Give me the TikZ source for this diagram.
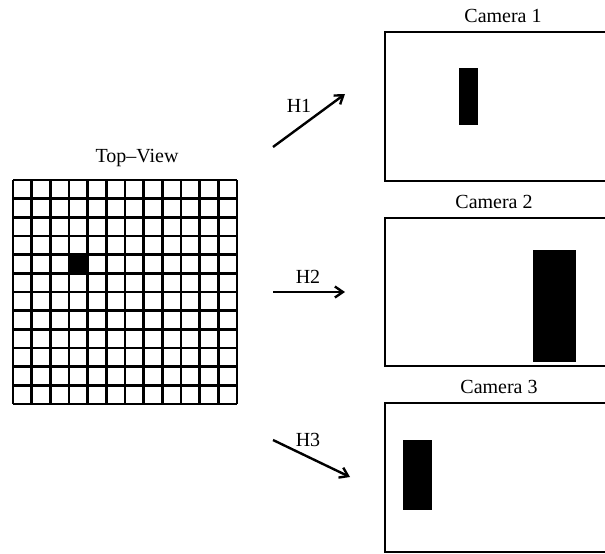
\documentclass[tikz,border=0pt]{standalone}
\usepackage{fontspec}
\setmainfont{Liberation Serif}
\usetikzlibrary{arrows.meta}
\tikzstyle{Frame}=[draw=black,line width=2.6pt]
\tikzstyle{Cell}=[draw=black,line width=2.6pt]
\tikzstyle{Blob}=[fill=black]
\tikzstyle{Edge}=[draw=black,line width=2.4pt,-{Straight Barb[length=8pt,width=11pt]}]
\tikzstyle{NodeST}=[font=\fontsize{20}{22}\selectfont,inner sep=0pt,anchor=base]

\begin{document}
\begin{tikzpicture}[x=1pt,y=-1pt]
        \useasboundingbox(0,0)rectangle(605,554);
        \clip(0,0)rectangle(605,554);
        % top view
        \fill[Blob](69,254.67)rectangle(87.67,273.33);
        \foreach \i in {0,...,12}{
            \draw[Cell](13+\i*18.667,180)--(13+\i*18.667,404);
            \draw[Cell](13,180+\i*18.667)--(237,180+\i*18.667);
        }
        \node[NodeST](top)at(137,162){Top--View};
        % cameras
        \draw[Frame](385,32)rectangle(625,181);
        \draw[Frame](385,218)rectangle(625,366);
        \draw[Frame](385,403)rectangle(625,552);
        \fill[Blob](459,68)rectangle(478,125);
        \fill[Blob](533,250)rectangle(576,362);
        \fill[Blob](403,440)rectangle(432,510);
        \node[NodeST](cam1)at(503,23){Camera 1};
        \node[NodeST](cam2)at(494,208){Camera 2};
        \node[NodeST](cam3)at(499,393){Camera 3};
        % homographies
        \coordinate(a1)at(273,147);
        \coordinate(b1)at(345,94);
        \coordinate(a2)at(273,292);
        \coordinate(b2)at(345,292);
        \coordinate(a3)at(273,440);
        \coordinate(b3)at(350,477);
        \draw[Edge](a1)--(b1);
        \draw[Edge](a2)--(b2);
        \draw[Edge](a3)--(b3);
        \node[NodeST](h1)at(299,112){H1};
        \node[NodeST](h2)at(308,283){H2};
        \node[NodeST](h3)at(308,446){H3};
    \end{tikzpicture}
\end{document}
